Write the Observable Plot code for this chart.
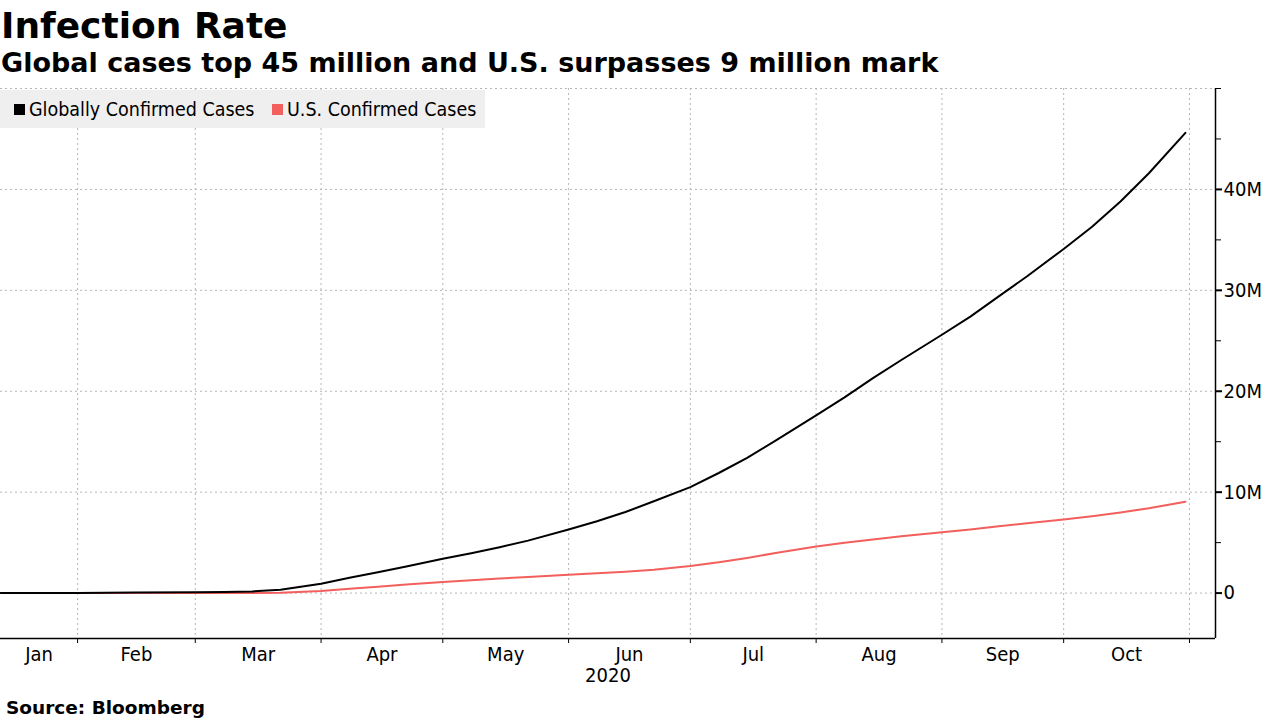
<!DOCTYPE html>
<html>
<head>
<meta charset="utf-8">
<script src="https://cdn.jsdelivr.net/npm/d3@7"></script>
<script src="https://cdn.jsdelivr.net/npm/@observablehq/plot@0.6"></script>
<style>
  html, body { margin: 0; padding: 0; background: #fff; width: 1280px; height: 720px; overflow: hidden; }
  body { position: relative; font-family: "DejaVu Sans", sans-serif; color: #000; }
  #title { position: absolute; left: 1px; top: 4px; font-size: 36px; font-weight: bold; line-height: 44px; }
  #subtitle { position: absolute; left: 1px; top: 47px; font-size: 27px; font-weight: bold; line-height: 32px; }
  #chart { position: absolute; left: 0; top: 80px; }
  #legend { position: absolute; left: 0; top: 90px; width: 485px; height: 38px; background: #efefef;
            font-family: "DejaVu Sans Condensed", "DejaVu Sans", sans-serif; font-stretch: condensed; font-size: 19.5px; line-height: 40px; white-space: nowrap; }
  #legend span.sw { display: inline-block; width: 11px; height: 11px; vertical-align: middle; margin-right: 4px; position: relative; top: -1px; }
  #legend span.item { position: absolute; top: 0; }
  #source { position: absolute; left: 6px; top: 696px; font-size: 18.5px; font-weight: bold; line-height: 24px; }
</style>
</head>
<body>
<div id="title">Infection Rate</div>
<div id="subtitle">Global cases top 45 million and U.S. surpasses 9 million mark</div>
<div id="chart"></div>
<div id="legend"></div>
<div id="source">Source: Bloomberg</div>
<script>
// ---- Data (values in millions of confirmed cases) ----
const dates = [
  "2020-01-13","2020-01-22","2020-02-01","2020-02-15","2020-03-01","2020-03-08","2020-03-15","2020-03-22",
  "2020-04-01","2020-04-08","2020-04-15","2020-04-22","2020-05-01","2020-05-08","2020-05-15","2020-05-22",
  "2020-06-01","2020-06-08","2020-06-15","2020-06-22","2020-07-01","2020-07-08","2020-07-15","2020-07-22",
  "2020-08-01","2020-08-08","2020-08-15","2020-08-22","2020-09-01","2020-09-08","2020-09-15","2020-09-22",
  "2020-10-01","2020-10-08","2020-10-15","2020-10-22","2020-10-31"
];
const globalCases = [
  0.00004, 0.00056, 0.0121, 0.069, 0.088, 0.110, 0.167, 0.337,
  0.93, 1.52, 2.07, 2.63, 3.40, 3.94, 4.54, 5.20,
  6.30, 7.12, 8.03, 9.10, 10.5, 11.9, 13.4, 15.1,
  17.6, 19.4, 21.3, 23.1, 25.6, 27.4, 29.4, 31.4,
  34.1, 36.3, 38.8, 41.6, 45.6
];
const usCases = [
  null, 0.000001, 0.000008, 0.000015, 0.00003, 0.0005, 0.0035, 0.033,
  0.21, 0.43, 0.64, 0.85, 1.10, 1.28, 1.45, 1.60,
  1.81, 1.96, 2.11, 2.31, 2.69, 3.05, 3.48, 3.97,
  4.62, 4.99, 5.32, 5.63, 6.04, 6.31, 6.63, 6.92,
  7.28, 7.61, 7.99, 8.41, 9.05
];
const seriesNames = ["Globally Confirmed Cases", "U.S. Confirmed Cases"];
const seriesColors = ["#000000", "#f25f5c"];
const monthStarts = ["2020-02-01","2020-03-01","2020-04-01","2020-05-01","2020-06-01",
                     "2020-07-01","2020-08-01","2020-09-01","2020-10-01","2020-11-01"];
const monthLabels = ["Jan","Feb","Mar","Apr","May","Jun","Jul","Aug","Sep","Oct"];
const yearLabel = "2020";
const yLabeledTicks = [0, 10, 20, 30, 40];
const yMinorTicks = [5, 15, 25, 35, 45, 50];
const xDomain = [new Date("2020-01-13T00:00Z"), new Date("2020-11-07T10:00Z")];
const yDomain = [-4.5, 50];

// ---- Build tables ----
const rows = dates.map((d, i) => ({date: new Date(d + "T00:00Z"), g: globalCases[i] * 1e6, u: usCases[i] == null ? null : usCases[i] * 1e6}));
const usRows = rows.filter(r => r.u != null);
const starts = monthStarts.map(d => new Date(d + "T00:00Z"));
const mids = monthLabels.map((m, i) => {
  const a = i === 0 ? xDomain[0] : starts[i - 1];
  const b = starts[i];
  return {label: m, date: new Date((+a + +b) / 2)};
});
const centerDate = new Date((+xDomain[0] + +xDomain[1]) / 2);
const fmtY = d => d === 0 ? "0" : (d / 1e6) + "M";

const chart = Plot.plot({
  width: 1280,
  height: 615,
  marginTop: 8,
  marginBottom: 57,
  marginLeft: 0,
  marginRight: 65,
  style: {fontFamily: "'DejaVu Sans Condensed', 'DejaVu Sans', sans-serif", fontSize: "20px", color: "#000", background: "#fff", fontStretch: "condensed"},
  x: {type: "utc", domain: xDomain},
  y: {domain: yDomain.map(v => v * 1e6)},
  marks: [
    Plot.gridY(yLabeledTicks.concat([50]).map(v => v * 1e6), {stroke: "#b5b5b5", strokeOpacity: 1, strokeDasharray: "2,3"}),
    Plot.gridX(starts, {stroke: "#b5b5b5", strokeOpacity: 1, strokeDasharray: "2,3"}),
    Plot.ruleX([xDomain[1]], {stroke: "#000", strokeWidth: 1.5}),
    Plot.ruleY([yDomain[0] * 1e6], {stroke: "#000", strokeWidth: 1.5}),
    Plot.lineY(usRows, {x: "date", y: "u", stroke: seriesColors[1], strokeWidth: 2}),
    Plot.lineY(rows, {x: "date", y: "g", stroke: seriesColors[0], strokeWidth: 2}),
    Plot.axisY(yLabeledTicks.map(v => v * 1e6), {anchor: "right", tickSize: 6, tickPadding: 2, tickFormat: fmtY, strokeWidth: 2, fontSize: 20}),
    Plot.axisY(yMinorTicks.map(v => v * 1e6), {anchor: "right", tickSize: 5, tickFormat: () => "", strokeWidth: 1}),
    Plot.axisX(starts, {anchor: "bottom", tickSize: 5, tickFormat: () => ""}),
    Plot.axisX(mids.map(d => d.date), {anchor: "bottom", tickSize: 0, tickPadding: 8, tickFormat: (d, i) => mids[i].label, fontSize: 20}),
    Plot.text([yearLabel], {x: () => centerDate, frameAnchor: "bottom", dy: 43, text: d => d, fontSize: 20})
  ]
});
document.getElementById("chart").appendChild(chart);

// ---- Legend ----
const legend = document.getElementById("legend");
const legendX = [14, 272];
seriesNames.forEach((name, i) => {
  const item = document.createElement("span");
  item.className = "item";
  item.style.left = legendX[i] + "px";
  const sw = document.createElement("span");
  sw.className = "sw";
  sw.style.background = seriesColors[i];
  item.appendChild(sw);
  item.appendChild(document.createTextNode(name));
  legend.appendChild(item);
});
</script>
</body>
</html>
